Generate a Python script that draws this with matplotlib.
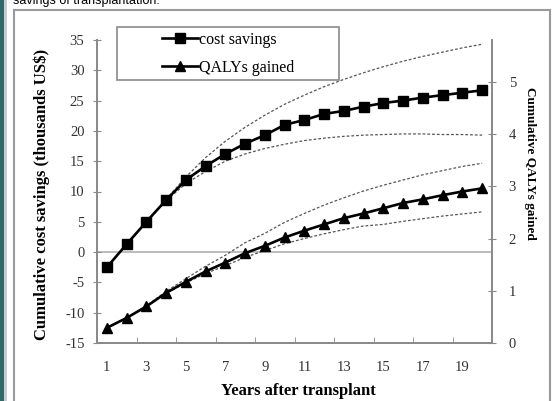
import matplotlib
matplotlib.use("Agg")
import matplotlib.pyplot as plt
from matplotlib.lines import Line2D
from matplotlib.patches import Rectangle

# data
years = list(range(1, 21))
cost_savings = [-2.5, 1.3, 5.0, 8.6, 11.9, 14.2, 16.2, 17.9, 19.3, 21.0,
                21.8, 22.8, 23.3, 24.0, 24.6, 25.0, 25.5, 25.9, 26.3, 26.7]
cost_hi = [-2.5, 1.3, 5.0, 8.7, 12.4, 15.6, 18.3, 20.6, 22.6, 24.4,
           25.9, 27.3, 28.5, 29.6, 30.6, 31.5, 32.3, 33.0, 33.7, 34.3]
cost_lo = [-2.5, 1.3, 5.0, 8.5, 11.3, 13.3, 15.0, 16.2, 17.1, 17.8,
           18.4, 18.8, 19.1, 19.3, 19.4, 19.5, 19.5, 19.4, 19.4, 19.3]
qalys = [0.29, 0.48, 0.70, 0.96, 1.17, 1.37, 1.54, 1.72, 1.86, 2.02,
         2.15, 2.27, 2.39, 2.48, 2.58, 2.68, 2.75, 2.83, 2.90, 2.96]
qalys_hi = [0.29, 0.48, 0.71, 0.99, 1.23, 1.47, 1.68, 1.92, 2.10, 2.31,
            2.48, 2.64, 2.78, 2.91, 3.02, 3.12, 3.22, 3.30, 3.38, 3.44]
qalys_lo = [0.29, 0.48, 0.70, 0.95, 1.15, 1.33, 1.48, 1.64, 1.77, 1.90,
            2.00, 2.09, 2.17, 2.24, 2.27, 2.33, 2.38, 2.43, 2.47, 2.51]
x_labels = [1, 3, 5, 7, 9, 11, 13, 15, 17, 19]
left_ticks = [-15, -10, -5, 0, 5, 10, 15, 20, 25, 30, 35]
right_ticks = [0, 1, 2, 3, 4, 5]

plt.rcParams["axes.unicode_minus"] = False
serif = "Liberation Serif"
spine_col = "#8a8a8a"
tick_col = "#333333"
dash = (0, (2.2, 1.6))

W, H = 554, 401
fig = plt.figure(figsize=(W / 100, H / 100), dpi=100)

# page frame around the figure
fig.add_artist(Rectangle((0, 0), 4 / W, 1, transform=fig.transFigure,
                         color="#2f6868", lw=0))
fig.add_artist(Rectangle((4 / W, 0), 3 / W, 1, transform=fig.transFigure,
                         color="#c8cccc", lw=0))
fig.add_artist(Line2D([14 / W, 14 / W], [0, 1 - 10 / H], color="#9a9a9a", lw=1.5))
fig.add_artist(Line2D([14 / W, 550 / W], [1 - 10 / H, 1 - 10 / H], color="#9a9a9a", lw=1.5))
fig.add_artist(Line2D([550 / W, 550 / W], [0, 1 - 10 / H], color="#9a9a9a", lw=1.5))
fig.text(13 / W, 1 - 4 / H, "savings of transplantation.", fontsize=9,
         family="Liberation Sans", va="baseline", ha="left")

ax = fig.add_axes([97 / W, 1 - 343 / H, 395 / W, 303 / H])
ax2 = ax.twinx()

ax.axhline(0, color="#b0b0b0", lw=1.2, zorder=1)

ax.plot(years, cost_hi, color="#555555", lw=0.9, ls=dash)
ax.plot(years, cost_lo, color="#555555", lw=0.9, ls=dash)
l1, = ax.plot(years, cost_savings, color="black", lw=1.9, marker="s",
              markersize=6.5, label="cost savings")

ax2.plot(years, qalys_hi, color="#555555", lw=0.9, ls=dash)
ax2.plot(years, qalys_lo, color="#555555", lw=0.9, ls=dash)
l2, = ax2.plot(years, qalys, color="black", lw=1.9, marker="^",
               markersize=7, label="QALYs gained")

ax.set_xlim(0.5, 20.5)
ax.set_ylim(-15, 35)
ax2.set_ylim(0, 5.8)

ax.set_xticks(x_labels)
ax.set_xticklabels([str(v) for v in x_labels])
ax.set_xticks([2.5 + 2 * i for i in range(9)], minor=True)
ax.tick_params(axis="x", which="major", length=0, pad=13,
               labelsize=10.5, labelcolor=tick_col)
ax.tick_params(axis="x", which="minor", direction="in", length=4,
               color=spine_col)
ax.set_yticks(left_ticks)
ax.tick_params(axis="y", direction="inout", length=6, color=spine_col,
               pad=6, labelsize=10.5, labelcolor=tick_col)
ax2.set_yticks(right_ticks)
ax2.tick_params(axis="y", direction="inout", length=6, color=spine_col,
                pad=9, labelsize=10.5, labelcolor=tick_col)

for lab in ax.get_xticklabels() + ax.get_yticklabels() + ax2.get_yticklabels():
    lab.set_family(serif)

for a in (ax, ax2):
    a.spines["top"].set_visible(False)
    for s in ("left", "right", "bottom"):
        a.spines[s].set_color(spine_col)
        a.spines[s].set_linewidth(1.3)

ax.set_ylabel("Cumulative cost savings (thousands US$)", family=serif,
              fontweight="bold", fontsize=12)
ax.yaxis.set_label_coords(-0.119, 0.49)
ax2.set_ylabel("Cumulative QALYs gained", family=serif, fontweight="bold",
               fontsize=9.5, rotation=270, va="center")
ax2.yaxis.set_label_coords(1.096, 0.594)
ax.set_xlabel("Years after transplant", family=serif, fontweight="bold",
              fontsize=12)
ax.xaxis.set_label_coords(0.51, -0.132)

# legend box drawn separately so it can poke above the axes
ax.add_patch(Rectangle((20 / 395, 263 / 303), 222 / 395, 53 / 303,
                       transform=ax.transAxes, fill=False, edgecolor=spine_col,
                       lw=1.2, clip_on=False, zorder=5))
ax2.legend(handles=[l1, l2], loc="center", bbox_to_anchor=(0.332, 0.955),
           frameon=False, prop={"family": serif, "size": 11.5},
           handlelength=2.3, handletextpad=0.05, labelspacing=0.75)

fig.savefig("out.png", dpi=100)
